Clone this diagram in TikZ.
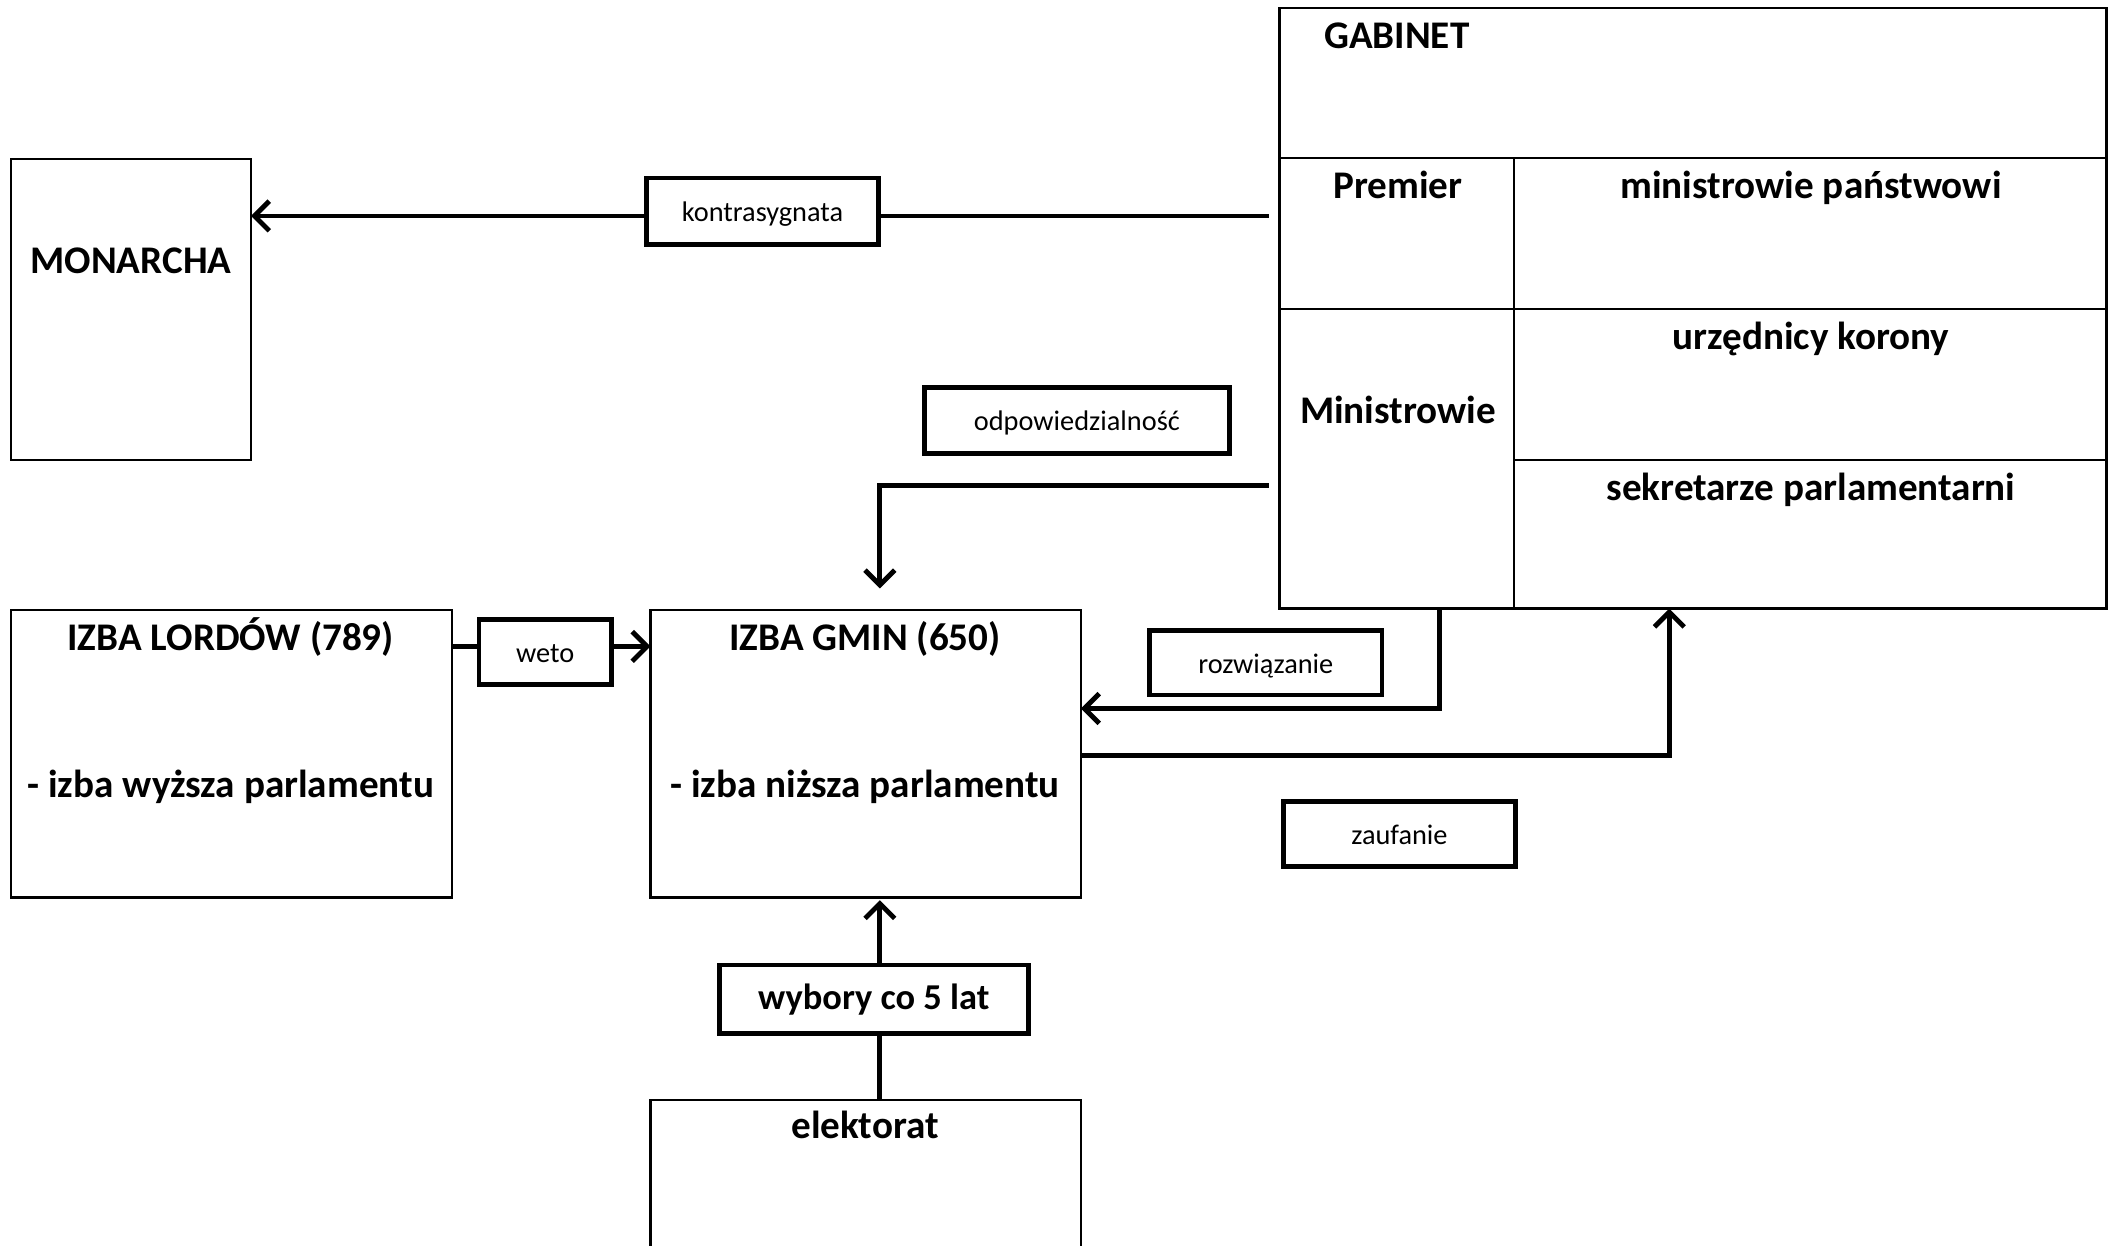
\documentclass[tikz,border=0pt]{standalone}
\usepackage{fontspec}
\setmainfont{Carlito}
\usetikzlibrary{arrows.meta}
\begin{document}
\begin{tikzpicture}[x=0.5pt,y=-0.5pt,
  box/.style={draw, line width=0.9pt, anchor=north west, inner sep=0pt, outer sep=0pt},
  lbl/.style={draw, fill=white, line width=1.7pt, inner sep=0pt, outer sep=0pt,
    font=\fontsize{10.5}{12}\selectfont, text height=0.98em, text depth=0.2em},
  big/.style={font=\fontsize{14.5}{17}\selectfont\bfseries, inner sep=0pt, text height=0.7em, text depth=0.2em},
  conn/.style={line width=1.8pt, -{Straight Barb[length=5.5pt,width=11pt,line width=1.8pt]}},
  plain/.style={line width=1.8pt}]
\clip (0,0) rectangle (1568,923);
\fill[white] (0,0) rectangle (1568,923);
% main boxes
\node[box, minimum width=89pt, minimum height=111.5pt] (mon) at (8,118) {};
\node[box, minimum width=306.5pt, minimum height=222.5pt] (gab) at (948,6) {};
\node[box, minimum width=87pt, minimum height=56pt] (prem) at (948,117) {};
\node[box, minimum width=219.5pt, minimum height=56pt] (mpan) at (1122,117) {};
\node[box, minimum width=87pt, minimum height=111pt] (mins) at (948,229) {};
\node[box, minimum width=219.5pt, minimum height=56pt] (urz) at (1122,229) {};
\node[box, minimum width=219.5pt, minimum height=55pt] (sek) at (1122,341) {};
\node[box, minimum width=163.5pt, minimum height=106.5pt] (lords) at (8,452) {};
\node[box, minimum width=159.5pt, minimum height=106.5pt] (gmin) at (482,452) {};
\node[box, minimum width=159.5pt, minimum height=80pt] (elek) at (482,815) {};
% texts
\node[big] (tmon) at (97,198) {MONARCHA};
\node[big] (tgab) at (1035,31) {GABINET};
\node[big] (tprem) at (1036,142) {Premier};
\node[big] (tmpan) at (1342,142) {ministrowie państwowi};
\node[big] (turz) at (1342,254) {urzędnicy korony};
\node[big] (tsek) at (1342,366) {sekretarze parlamentarni};
\node[big] (tmins) at (1036,309) {Ministrowie};
\node[big] (tlords) at (171,477) {IZBA LORDÓW (789)};
\node[big] (tlords2) at (171,586) {- izba wyższa parlamentu};
\node[big] (tgmin) at (641,477) {IZBA GMIN (650)};
\node[big] (tgmin2) at (641,586) {- izba niższa parlamentu};
\node[big] (telek) at (641,839) {elektorat};
% connectors
\coordinate (k1) at (940,160);
\draw[conn] (k1) -- (mon.east |- k1);
\coordinate (o1) at (940,360);
\coordinate (o2) at (652,360);
\coordinate (o3) at (652,436);
\draw[conn] (o1) -- (o2) -- (o3);
\coordinate (w1) at (335,479);
\draw[conn] (w1) -- (gmin.west |- w1);
\coordinate (r1) at (1067,451);
\coordinate (r2) at (1067,525);
\draw[conn] (r1) -- (r2) -- (gmin.east |- r2);
\coordinate (z1) at (801,560);
\coordinate (z2) at (1237,560);
\draw[conn] (z1) -- (z2) -- (gab.south -| z2);
\coordinate (e1) at (652,815);
\draw[conn] (e1) -- (652,667);
% label boxes
\node[lbl, minimum width=86pt, minimum height=24.5pt] (lkon) at (565,156.5) {kontrasygnata};
\node[lbl, minimum width=113pt, minimum height=24.5pt] (lodp) at (798,311.5) {odpowiedzialność};
\node[lbl, minimum width=49pt, minimum height=24pt] (lweto) at (404,483) {weto};
\node[lbl, minimum width=86pt, minimum height=24pt] (lroz) at (938,491) {rozwiązanie};
\node[lbl, minimum width=86pt, minimum height=24pt] (lzau) at (1037,618) {zaufanie};
\node[lbl, minimum width=114.5pt, minimum height=25.5pt, font=\fontsize{13.5}{16}\selectfont\bfseries] (lwyb) at (647.5,740.5) {wybory co 5 lat};
\end{tikzpicture}
\end{document}
